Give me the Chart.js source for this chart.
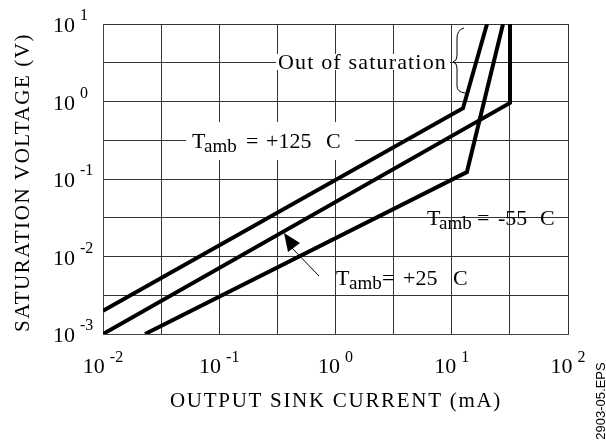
<!DOCTYPE html>
<html>
<head>
<meta charset="utf-8">
<script src="https://cdn.jsdelivr.net/npm/chart.js@4.4.0/dist/chart.umd.min.js"></script>
<style>
  html, body { margin: 0; padding: 0; background: #fff; }
  canvas { display: block; }
</style>
</head>
<body>
<canvas id="satChart" width="606" height="444"></canvas>
<script>
// Saturation voltage vs output sink current (log-log)

const current125 = [0.01, 12.5, 20.1];
const voltage125 = [0.002, 0.82, 10];
const current25 = [0.01, 31.7, 31.7];
const voltage25 = [0.001, 0.96, 10];
const current55 = [0.023, 13.5, 27.6];
const voltage55 = [0.001, 0.123, 10];

// half-decade grid
const xGridValues = [0.01, 0.0316, 0.1, 0.316, 1, 3.16, 10, 31.6, 100];
const yGridValues = [0.001, 0.00316, 0.01, 0.0316, 0.1, 0.316, 1, 3.16, 10];
const xTickValues = [0.01, 0.1, 1, 10, 100];
const xTickExps = ['-2', '-1', '0', '1', '2'];
const yTickValues = [0.001, 0.01, 0.1, 1, 10];
const yTickExps = ['-3', '-2', '-1', '0', '1'];

const SERIF = '"Liberation Serif", "Times New Roman", serif';
const font = (size) => size + 'px ' + SERIF;

function toPoints(xs, ys) {
    return xs.map((x, i) => ({ x: x, y: ys[i] }));
}

function fitText(ctx, text, x, y, width, size) {
    ctx.font = font(size);
    ctx.letterSpacing = '0px';
    const natural = ctx.measureText(text).width;
    const gap = (width - natural) / text.length;
    ctx.letterSpacing = gap + 'px';
    ctx.fillText(text, x, y);
    ctx.letterSpacing = '0px';
}

// T_amb labels: [text, offset from x, subscript?]
const tambLabels = [
    { x: 192, y: 148, parts: [['T', 0], ['amb', 12, true], ['=', 54], ['+125', 74], ['C', 134]] },
    { x: 427, y: 225, parts: [['T', 0], ['amb', 12, true], ['=', 50], ['-55', 71], ['C', 113]] },
    { x: 336, y: 285, parts: [['T', 0], ['amb', 13, true], ['=', 46], ['+25', 67], ['C', 117]] }
];

function drawTamb(ctx, label) {
    ctx.fillStyle = '#000';
    ctx.textAlign = 'left';
    ctx.textBaseline = 'alphabetic';
    label.parts.forEach(([txt, off, sub]) => {
        ctx.font = font(sub ? 19 : 22);
        ctx.fillText(txt, label.x + off, label.y + (sub ? 4 : 0));
    });
}

const annotations = {
    id: 'annotations',
    beforeDatasetsDraw(chart) {
        const ctx = chart.ctx;
        ctx.save();
        // white boxes that break the grid
        ctx.fillStyle = '#fff';
        ctx.fillRect(186, 122, 169, 38);
        ctx.fillRect(276, 54, 174, 16);
        drawTamb(ctx, tambLabels[0]);
        ctx.fillStyle = '#000';
        fitText(ctx, 'Out of saturation', 278, 69, 169, 22);
        ctx.restore();
    },
    afterDraw(chart) {
        const ctx = chart.ctx;
        const xs = chart.scales.x;
        const ys = chart.scales.y;
        ctx.save();
        ctx.fillStyle = '#000';
        ctx.textBaseline = 'alphabetic';
        ctx.textAlign = 'left';

        // x tick labels
        xTickValues.forEach((v, i) => {
            const px = xs.getPixelForValue(v);
            ctx.font = font(22);
            const w1 = ctx.measureText('10').width;
            ctx.font = font(16);
            const w2 = ctx.measureText(xTickExps[i]).width;
            const left = px - (w1 + 5 + w2) / 2;
            ctx.font = font(22);
            ctx.fillText('10', left, 373);
            ctx.font = font(16);
            ctx.fillText(xTickExps[i], left + w1 + 5, 362);
        });

        // y tick labels
        yTickValues.forEach((v, i) => {
            const py = ys.getPixelForValue(v);
            ctx.font = font(22);
            const w1 = ctx.measureText('10').width;
            ctx.fillText('10', 53, py + 8);
            ctx.font = font(16);
            ctx.fillText(yTickExps[i], 53 + w1 + 5, py - 4);
        });

        // axis titles
        fitText(ctx, 'OUTPUT SINK CURRENT (mA)', 170, 407, 332, 21);
        ctx.save();
        ctx.translate(29, 332);
        ctx.rotate(-Math.PI / 2);
        fitText(ctx, 'SATURATION VOLTAGE (V)', 0, 0, 299, 21);
        ctx.restore();

        drawTamb(ctx, tambLabels[1]);
        drawTamb(ctx, tambLabels[2]);

        // arrow to the +25 curve
        ctx.strokeStyle = '#000';
        ctx.lineWidth = 1;
        ctx.beginPath();
        ctx.moveTo(319, 276);
        ctx.lineTo(292, 248);
        ctx.stroke();
        ctx.beginPath();
        ctx.moveTo(284, 233);
        ctx.lineTo(300, 243);
        ctx.lineTo(288, 252);
        ctx.closePath();
        ctx.fill();

        // brace
        ctx.beginPath();
        ctx.moveTo(464, 28);
        ctx.quadraticCurveTo(457, 30, 457, 38);
        ctx.lineTo(457, 56);
        ctx.quadraticCurveTo(457, 61, 453, 62);
        ctx.quadraticCurveTo(457, 63, 457, 68);
        ctx.lineTo(457, 86);
        ctx.quadraticCurveTo(457, 92, 465, 93);
        ctx.stroke();

        // file tag
        ctx.save();
        ctx.translate(601, 401);
        ctx.rotate(-Math.PI / 2);
        ctx.font = '13px "Liberation Sans", Arial, sans-serif';
        ctx.textAlign = 'center';
        ctx.textBaseline = 'middle';
        ctx.fillText('2903-05.EPS', 0, 0);
        ctx.restore();

        ctx.restore();
    }
};

const lineStyle = {
    borderColor: '#000',
    borderWidth: 4,
    pointRadius: 0,
    fill: false,
    tension: 0,
    borderJoinStyle: 'miter'
};

new Chart(document.getElementById('satChart'), {
    type: 'line',
    data: {
        datasets: [
            Object.assign({ label: 'Tamb = +125 C', data: toPoints(current125, voltage125) }, lineStyle),
            Object.assign({ label: 'Tamb = +25 C', data: toPoints(current25, voltage25) }, lineStyle),
            Object.assign({ label: 'Tamb = -55 C', data: toPoints(current55, voltage55) }, lineStyle)
        ]
    },
    options: {
        responsive: false,
        animation: false,
        layout: { padding: { top: 24, right: 38, left: 0, bottom: 0 } },
        plugins: {
            legend: { display: false },
            tooltip: { enabled: false }
        },
        scales: {
            x: {
                type: 'logarithmic',
                min: 0.01,
                max: 100,
                afterBuildTicks: (axis) => { axis.ticks = xGridValues.map(v => ({ value: v })); },
                afterFit: (axis) => { axis.height = 110; },
                ticks: { display: false },
                grid: { color: '#333', lineWidth: 1, drawTicks: false },
                border: { color: '#444', width: 1 }
            },
            y: {
                type: 'logarithmic',
                min: 0.001,
                max: 10,
                afterBuildTicks: (axis) => { axis.ticks = yGridValues.map(v => ({ value: v })); },
                afterFit: (axis) => { axis.width = 103; },
                ticks: { display: false },
                grid: { color: '#333', lineWidth: 1, drawTicks: false },
                border: { color: '#444', width: 1 }
            }
        }
    },
    plugins: [annotations]
});
</script>
</body>
</html>
